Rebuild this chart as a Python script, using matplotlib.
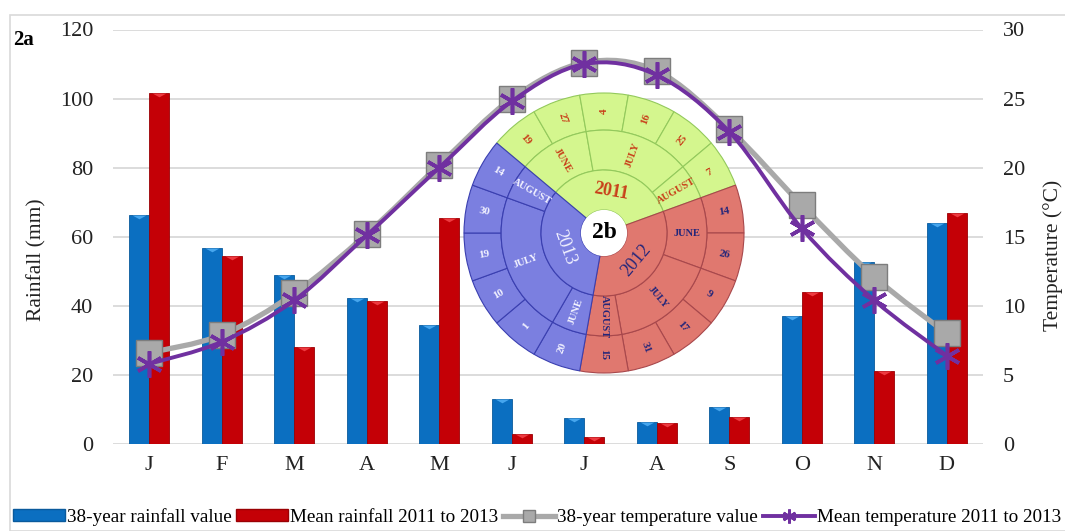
import numpy as np
import matplotlib
matplotlib.use("Agg")
import matplotlib.pyplot as plt
from matplotlib.patches import Wedge, Circle, Rectangle, PathPatch, Patch
from matplotlib.path import Path
from matplotlib.lines import Line2D

plt.rcParams['font.family'] = ['Liberation Serif', 'DejaVu Serif']

months = ['J', 'F', 'M', 'A', 'M', 'J', 'J', 'A', 'S', 'O', 'N', 'D']
rain_38yr = [66.2, 56.8, 48.8, 42.2, 34.4, 13.0, 7.5, 6.4, 10.7, 37.0, 52.7, 64.0]
rain_mean = [101.6, 54.4, 28.1, 41.4, 65.4, 2.9, 2.0, 6.2, 7.9, 44.0, 21.2, 66.9]
temp_38yr = [6.6, 7.9, 10.9, 15.2, 20.2, 25.0, 27.6, 27.0, 22.8, 17.3, 12.1, 8.0]
temp_mean = [5.8, 7.4, 10.4, 15.1, 20.0, 24.8, 27.5, 26.7, 22.6, 15.6, 10.4, 6.4]

# sampling calendar for the ring diagram
years = ['2011', '2012', '2013']
month_names = ['JUNE', 'JULY', 'AUGUST']
sample_days = [
    [['19', '27'], ['4', '16', '25'], ['7']],
    [['14', '26'], ['9', '17', '31'], ['15']],
    [['20'], ['1', '10', '19', '30'], ['14']],
]

BLUE, BLUE_TOP = '#0b6fc1', '#46a6ee'
RED, RED_TOP = '#c40006', '#ee3a40'
GREY, GREY_EDGE = '#a9a9a9', '#7d7d7d'
PURPLE = '#7030a0'
GRID = '#d9d9d9'
TXT = '#222222'


def smooth_path(xs, ys):
    # Excel-style smoothed line: cubic Bezier segments through every point
    pts = np.column_stack([xs, ys]).astype(float)
    verts = [pts[0]]
    codes = [Path.MOVETO]
    n = len(pts)
    for i in range(n - 1):
        p0 = pts[i - 1] if i > 0 else pts[i]
        p1, p2 = pts[i], pts[i + 1]
        p3 = pts[i + 2] if i + 2 < n else pts[i + 1]
        verts += [p1 + (p2 - p0) / 6.0, p2 - (p3 - p1) / 6.0, p2]
        codes += [Path.CURVE4] * 3
    return Path(verts, codes)


def radial_rot(a):
    a = (a + 180) % 360 - 180
    if a > 90:
        a -= 180
    elif a < -90:
        a += 180
    return a


fig = plt.figure(figsize=(10.65, 5.31), dpi=100)
fig.patches.append(Rectangle((10 / 1065, 0), 1.0, 1 - 15 / 531, transform=fig.transFigure,
                             fill=False, edgecolor='#d9d9d9', lw=1.2))

ax = fig.add_axes([113 / 1065, 1 - 444 / 531, 870 / 1065, 414.5 / 531])
x = np.arange(len(months))
w = 0.275
b1 = ax.bar(x - w / 2, rain_38yr, w, color=BLUE, edgecolor='#0a5a9c', lw=0.6, zorder=3)
b2 = ax.bar(x + w / 2, rain_mean, w, color=RED, edgecolor='#9a0004', lw=0.6, zorder=3)

# bevelled tops
tri = [(-1, 0), (1, 0), (0, -0.55), (-1, 0)]
for bars, c in ((b1, BLUE_TOP), (b2, RED_TOP)):
    for r in bars:
        ax.plot(r.get_x() + r.get_width() / 2, r.get_height(), marker=tri, ms=10,
                color=c, mec='none', ls='none', zorder=4)

ax.set_xlim(-0.5, 11.5)
ax.set_ylim(0, 120)
ax.set_yticks(range(0, 121, 20))
ax.set_xticks(x)
ax.set_xticklabels(months)
ax.grid(axis='y', color=GRID, lw=1.3, zorder=0)
ax.set_axisbelow(True)
for s in ax.spines.values():
    s.set_visible(False)
ax.tick_params(axis='both', length=0, labelsize=16, colors=TXT)
ax.tick_params(axis='y', pad=14.4)
ax.tick_params(axis='x', pad=9)
ax.set_ylabel('Rainfall (mm)', fontsize=15.5, color=TXT)
ax.yaxis.label.set(ha='center', va='center')
ax.yaxis.set_label_coords(-0.0874, 0.444)

ax2 = ax.twinx()
ax2.set_ylim(0, 30)
ax2.set_yticks(range(0, 31, 5))
for s in ax2.spines.values():
    s.set_visible(False)
ax2.tick_params(axis='y', length=0, labelsize=16, pad=14.4, colors=TXT)
ax2.set_ylabel('Temperature (°C)', fontsize=15.5, color=TXT)
ax2.yaxis.label.set(ha='center', va='center')
ax2.yaxis.set_label_coords(1.0805, 0.456)

ax2.add_patch(PathPatch(smooth_path(x, temp_38yr), facecolor='none', edgecolor=GREY,
                        lw=3.8, capstyle='round', zorder=5))
ax2.plot(x, temp_38yr, ls='none', marker='s', ms=19, mfc=GREY, mec=GREY_EDGE, mew=1.0, zorder=6)
ax2.add_patch(PathPatch(smooth_path(x, temp_mean), facecolor='none', edgecolor=PURPLE,
                        lw=2.8, capstyle='round', zorder=7))
ax2.plot(x, temp_mean, ls='none', marker=(6, 2, 0), ms=19, mec=PURPLE, mew=2.6, zorder=8)

fig.text(13 / 1065, 1 - 40 / 531, '2a', fontsize=15, fontweight='bold', va='center', ha='left')

# ring diagram of sampling dates
axin = fig.add_axes([(604 - 145) / 1065, 1 - (233 + 145) / 531, 290 / 1065, 290 / 531])
lim = 145 / 140
axin.set_xlim(-lim, lim)
axin.set_ylim(-lim, lim)
axin.set_aspect('equal')
axin.axis('off')

face = ['#d4f68e', '#e0786f', '#7b7fe0']
edge = ['#93c95c', '#a8484c', '#3a3fb0']
tcol = ['#c8401a', '#24267a', '#f2f2ff']
r_hole, r_year, r_month, r_out = 0.165, 0.45, 0.735, 1.0
step = 360 / sum(len(d) for yr in sample_days for d in yr)
ang = 140.0
for i, yr in enumerate(years):
    y_start = ang
    for j, dlist in enumerate(sample_days[i]):
        m_start = ang
        for d in dlist:
            a1, a0 = ang, ang - step
            axin.add_patch(Wedge((0, 0), r_out, a0, a1, width=r_out - r_month,
                                 facecolor=face[i], edgecolor=edge[i], lw=0.8))
            mid = np.deg2rad((a0 + a1) / 2)
            axin.text(0.87 * np.cos(mid), 0.87 * np.sin(mid), d, ha='center', va='center',
                      rotation=radial_rot((a0 + a1) / 2), fontsize=8, fontweight='bold',
                      color=tcol[i])
            ang = a0
        axin.add_patch(Wedge((0, 0), r_month, ang, m_start, width=r_month - r_year,
                             facecolor=face[i], edgecolor=edge[i], lw=0.8))
        mid_deg = (ang + m_start) / 2
        mid = np.deg2rad(mid_deg)
        axin.text(0.595 * np.cos(mid), 0.595 * np.sin(mid), month_names[j], ha='center',
                  va='center', rotation=radial_rot(mid_deg), fontsize=7.5, fontweight='bold',
                  color=tcol[i])
    axin.add_patch(Wedge((0, 0), r_year, ang, y_start, width=r_year - r_hole,
                         facecolor=face[i], edgecolor=edge[i], lw=0.8))
    mid_deg = (ang + y_start) / 2
    mid = np.deg2rad(mid_deg)
    axin.text(0.30 * np.cos(mid), 0.30 * np.sin(mid), yr, ha='center', va='center',
              rotation=radial_rot(mid_deg - 90), fontsize=13, fontweight='bold' if i == 0 else 'normal',
              color=tcol[i])
axin.add_patch(Circle((0, 0), r_hole, facecolor='white', edgecolor='none'))
axin.text(0, 0, '2b', ha='center', va='center', fontsize=17, fontweight='bold')

handles = [
    Patch(facecolor=BLUE, edgecolor='#0a5a9c'),
    Patch(facecolor=RED, edgecolor='#9a0004'),
    Line2D([], [], color=GREY, lw=3.8, marker='s', ms=9, mfc=GREY, mec=GREY_EDGE),
    Line2D([], [], color=PURPLE, lw=2.8, marker=(6, 2, 0), ms=10, mec=PURPLE, mew=2),
]
labels = ['38-year rainfall value', 'Mean rainfall 2011 to 2013',
          '38-year temperature value', 'Mean temperature 2011 to 2013']
fig.legend(handles, labels, loc='center', bbox_to_anchor=(537 / 1065, 1 - 517 / 531), ncol=4,
           frameon=False, fontsize=13.8, handlelength=2.7, handleheight=0.6,
           handletextpad=0.12, columnspacing=0.25, borderaxespad=0)

fig.savefig('out.png', dpi=100)
